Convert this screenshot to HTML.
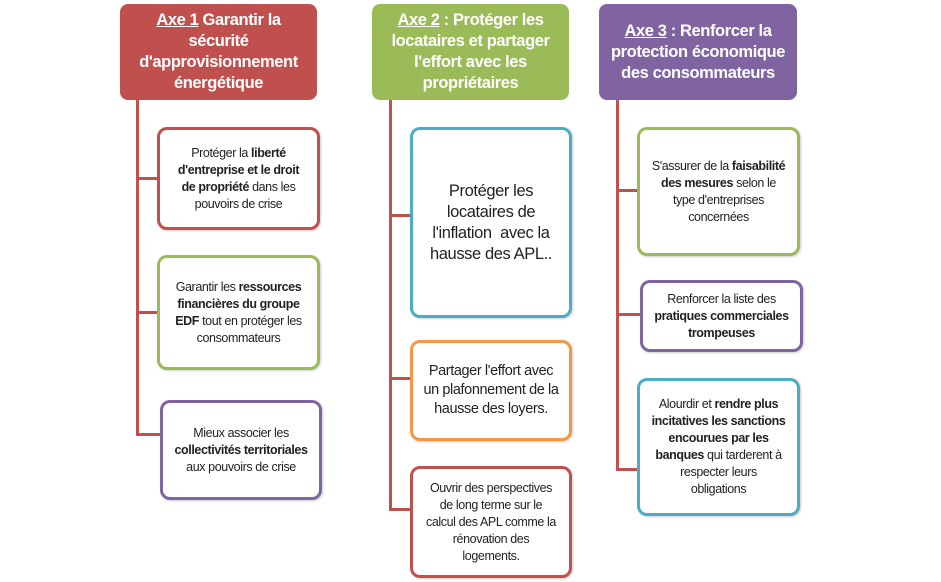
<!DOCTYPE html>
<html><head><meta charset="utf-8"><style>
body{margin:0;width:941px;height:582px;background:#fff;position:relative;font-family:"Liberation Sans",sans-serif;overflow:hidden}
.h{position:absolute;top:4px;height:96px;border-radius:8px;color:#fff;font-weight:bold;font-size:16.5px;line-height:21px;display:flex;align-items:center;justify-content:center;text-align:center;box-sizing:border-box;padding:0 6px;letter-spacing:-0.4px}
.b{position:absolute;background:#fff;border:3px solid;border-radius:10px;box-sizing:border-box;display:flex;align-items:center;justify-content:center;text-align:center;font-size:12.5px;line-height:17px;color:#222;padding:0 11px;letter-spacing:-0.4px;box-shadow:1px 1px 2px rgba(0,0,0,.2)}
.v{position:absolute;width:3px;background:#c0504d}
.l{position:absolute;height:3px;background:#c0504d}
</style></head><body>
<div class="h" style="left:120px;width:197px;background:#c0504d"><div><u>Axe 1</u> Garantir la sécurité d'approvisionnement énergétique</div></div>
<div class="h" style="left:372px;width:197px;background:#9bbb59"><div><u>Axe 2</u> : Protéger les locataires et partager l'effort avec les propriétaires</div></div>
<div class="h" style="left:599px;width:198px;background:#8064a2"><div><u>Axe 3</u> : Renforcer la protection économique des consommateurs</div></div>

<div class="v" style="left:136px;top:100px;height:336px"></div>
<div class="l" style="left:136px;top:177px;width:22px"></div>
<div class="l" style="left:136px;top:311px;width:22px"></div>
<div class="l" style="left:136px;top:433px;width:25px"></div>

<div class="v" style="left:389px;top:100px;height:411px"></div>
<div class="l" style="left:389px;top:214px;width:22px"></div>
<div class="l" style="left:389px;top:377px;width:22px"></div>
<div class="l" style="left:389px;top:508px;width:22px"></div>

<div class="v" style="left:616px;top:100px;height:371px"></div>
<div class="l" style="left:616px;top:189px;width:22px"></div>
<div class="l" style="left:616px;top:313px;width:25px"></div>
<div class="l" style="left:616px;top:468px;width:22px"></div>

<div class="b" style="left:157px;top:127px;width:163px;height:103px;border-color:#c0504d"><div>Protéger la <b>liberté d'entreprise et le droit de propriété</b> dans les pouvoirs de crise</div></div>
<div class="b" style="left:157px;top:255px;width:163px;height:115px;border-color:#9bbb59"><div>Garantir les <b>ressources financières du groupe EDF</b> tout en protéger les consommateurs</div></div>
<div class="b" style="left:160px;top:400px;width:162px;height:100px;border-color:#8064a2"><div>Mieux associer les <b>collectivités territoriales</b> aux pouvoirs de crise</div></div>

<div class="b" style="left:410px;top:127px;width:162px;height:191px;border-color:#4bacc6;font-size:16.5px;line-height:21px"><div>Protéger les locataires de l'inflation&nbsp; avec la hausse des APL..</div></div>
<div class="b" style="left:410px;top:340px;width:162px;height:101px;border-color:#f79646;font-size:14.5px;line-height:19px;padding:0 8px"><div>Partager l'effort avec un plafonnement de la hausse des loyers.</div></div>
<div class="b" style="left:410px;top:466px;width:162px;height:112px;border-color:#c0504d"><div>Ouvrir des perspectives de long terme sur le calcul des APL comme la rénovation des logements.</div></div>

<div class="b" style="left:637px;top:127px;width:163px;height:129px;border-color:#9bbb59"><div>S'assurer de la <b>faisabilité des mesures</b> selon le type d'entreprises concernées</div></div>
<div class="b" style="left:640px;top:280px;width:163px;height:72px;border-color:#8064a2"><div>Renforcer la liste des <b>pratiques commerciales trompeuses</b></div></div>
<div class="b" style="left:637px;top:378px;width:163px;height:138px;border-color:#4bacc6"><div>Alourdir et <b>rendre plus incitatives les sanctions encourues par les banques</b> qui tarderent à respecter leurs obligations</div></div>
</body></html>
